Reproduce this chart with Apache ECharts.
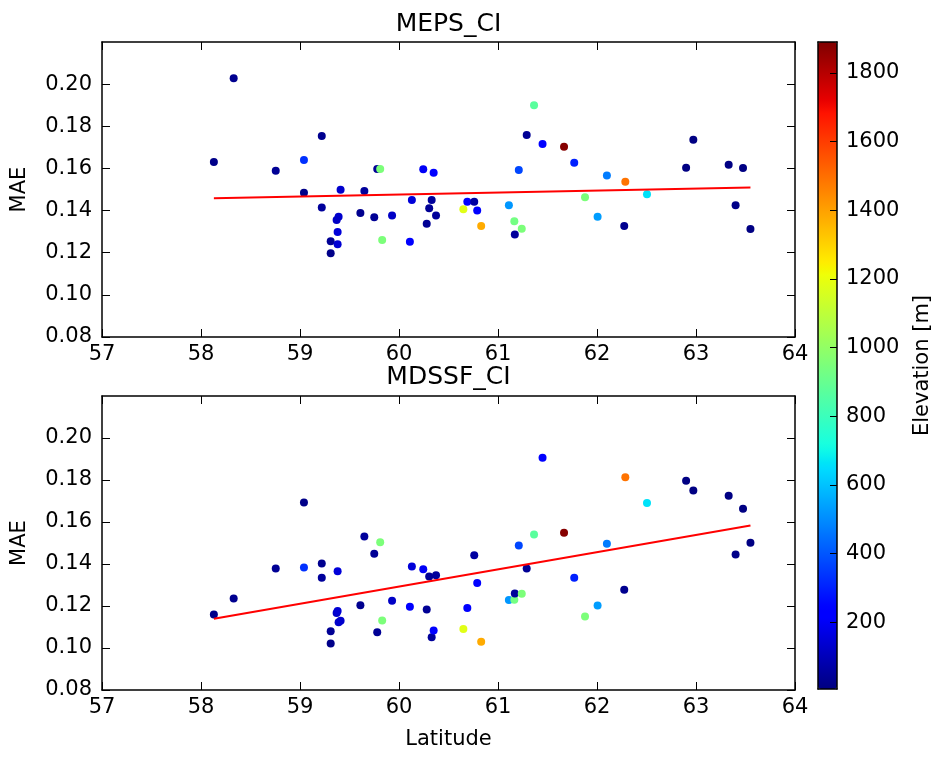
<!DOCTYPE html>
<html>
<head>
<meta charset="utf-8">
<script src="https://cdn.jsdelivr.net/npm/echarts@6/dist/echarts.min.js"></script>
<style>
html,body{margin:0;padding:0;background:#fff;}
#chart{width:934px;height:758px;}
</style>
</head>
<body>
<div id="chart"></div>
<script>
// ---- Data ----
const latitude = [58.13, 58.33, 58.755, 59.04, 59.04, 59.22, 59.22, 59.41, 59.39, 59.37, 59.38, 59.31, 59.38, 59.31,
  59.61, 59.65, 59.75, 59.78, 59.81, 59.83, 59.93, 60.11, 60.13, 60.245, 60.28, 60.305, 60.33, 60.35, 60.374,
  60.65, 60.69, 60.76, 60.79, 60.83, 61.11, 61.165, 61.17, 61.21, 61.24, 61.29, 61.364, 61.45, 61.667, 61.77,
  61.879, 62.006, 62.1, 62.275, 62.286, 62.505, 62.90, 62.973, 63.33, 63.40, 63.475, 63.55];
const elevation = [20, 30, 40, 330, 20, 30, 50, 130, 130, 120, 150, 40, 140, 20,
  30, 50, 40, 40, 950, 950, 120, 220, 150, 200, 40, 40, 50, 220, 50,
  1180, 220, 60, 220, 1380, 520, 930, 50, 370, 950, 40, 870, 230, 1880, 300,
  950, 530, 470, 30, 1490, 660, 10, 10, 10, 20, 10, 10];
const maeMEPS = [0.163, 0.2028, 0.1589, 0.164, 0.1485, 0.1754, 0.1414, 0.1499, 0.1371, 0.1355, 0.1298, 0.1254, 0.124, 0.1197,
  0.1388, 0.1493, 0.1368, 0.1597, 0.1597, 0.126, 0.1377, 0.1252, 0.145, 0.1596, 0.1338, 0.1411, 0.145, 0.158, 0.1377,
  0.1406, 0.1442, 0.1442, 0.14, 0.1327, 0.1425, 0.1349, 0.1286, 0.1593, 0.1314, 0.1759, 0.19, 0.1716, 0.1703, 0.1627,
  0.1463, 0.1371, 0.1566, 0.1327, 0.1537, 0.1477, 0.1603, 0.1736, 0.1618, 0.1425, 0.1602, 0.1312];
const maeMDSSF = [0.116, 0.1236, 0.1379, 0.1383, 0.1693, 0.1402, 0.1334, 0.113, 0.1123, 0.1167, 0.1366, 0.108, 0.1176, 0.1021,
  0.1204, 0.1531, 0.1449, 0.1075, 0.1504, 0.1131, 0.1225, 0.1196, 0.1388, 0.1375, 0.1183, 0.134, 0.1051, 0.1083, 0.1347,
  0.1091, 0.1191, 0.1442, 0.1309, 0.103, 0.1228, 0.123, 0.126, 0.1488, 0.1258, 0.1379, 0.154, 0.1906, 0.1549, 0.1335,
  0.115, 0.1202, 0.1496, 0.1277, 0.1813, 0.169, 0.1796, 0.175, 0.1725, 0.1445, 0.1663, 0.1501];
// regression line end points [lat, MAE]
const fitMEPS = [[58.13, 0.1458], [63.55, 0.1510]];
const fitMDSSF = [[58.13, 0.1139], [63.55, 0.1583]];
const xTicks = [57, 58, 59, 60, 61, 62, 63, 64];
const yTicks = [0.08, 0.10, 0.12, 0.14, 0.16, 0.18, 0.20];
const cbTicks = [200, 400, 600, 800, 1000, 1200, 1400, 1600, 1800];
const titles = ['MEPS_CI', 'MDSSF_CI'];

// ---- jet colormap ----
function interp(pts, t) {
  for (let i = 1; i < pts.length; i++) {
    if (t <= pts[i][0]) {
      const a = pts[i - 1], b = pts[i];
      return a[1] + (b[1] - a[1]) * (t - a[0]) / (b[0] - a[0]);
    }
  }
  return pts[pts.length - 1][1];
}
const R = [[0,0],[0.35,0],[0.66,1],[0.89,1],[1,0.5]];
const G = [[0,0],[0.125,0],[0.375,1],[0.64,1],[0.91,0],[1,0]];
const B = [[0,0.5],[0.11,1],[0.34,1],[0.65,0],[1,0]];
const jet = [];
for (let i = 0; i <= 100; i++) {
  const t = i / 100;
  const c = v => Math.round(Math.max(0, Math.min(1, v)) * 255);
  jet.push('rgb(' + c(interp(R, t)) + ',' + c(interp(G, t)) + ',' + c(interp(B, t)) + ')');
}

const FONT = 'DejaVu Sans';
const dataTop = latitude.map((x, i) => [x, maeMEPS[i], elevation[i]]);
const dataBot = latitude.map((x, i) => [x, maeMDSSF[i], elevation[i]]);

const lineStyleAxis = { color: '#000', width: 1.5 };
function xAx(grid, pos, labels, name) {
  return {
    type: 'value', gridIndex: grid, position: pos, min: 57, max: 64,
    axisLine: { show: true, onZero: false, lineStyle: lineStyleAxis },
    axisTick: { show: true, inside: true, length: 8, customValues: xTicks, lineStyle: { color: '#000', width: 1 } },
    axisLabel: { show: labels, customValues: xTicks, fontFamily: FONT, fontSize: 21, color: '#000', margin: 7,
      formatter: v => String(v) },
    splitLine: { show: false },
    name: name || '', nameLocation: 'middle', nameGap: 39,
    nameTextStyle: { fontFamily: FONT, fontSize: 21, color: '#000' }
  };
}
function yAx(grid, pos, labels, name) {
  return {
    type: 'value', gridIndex: grid, position: pos, min: 0.08, max: 0.22,
    axisLine: { show: true, onZero: false, lineStyle: lineStyleAxis },
    axisTick: { show: true, inside: true, length: 8, customValues: yTicks, lineStyle: { color: '#000', width: 1 } },
    axisLabel: { show: labels, customValues: yTicks, fontFamily: FONT, fontSize: 21, color: '#000', margin: 10,
      formatter: v => Number(v).toFixed(2) },
    splitLine: { show: false },
    name: name || '', nameLocation: 'middle', nameGap: 72,
    nameTextStyle: { fontFamily: FONT, fontSize: 21, color: '#000' }
  };
}

const option = {
  backgroundColor: '#fff',
  animation: false,
  title: titles.map((t, i) => ({
    text: t, left: 448.5, top: i === 0 ? 12 : 365, textAlign: 'center', padding: 0,
    textStyle: { fontFamily: FONT, fontSize: 25, fontWeight: 'normal', color: '#000' }
  })),
  grid: [
    { left: 102, top: 42, width: 693, height: 295 },
    { left: 102, top: 396, width: 693, height: 294 },
    { left: 818, top: 42, width: 19, height: 647 }
  ],
  xAxis: [
    xAx(0, 'bottom', true), xAx(0, 'top', false),
    xAx(1, 'bottom', true, 'Latitude'), xAx(1, 'top', false),
    { type: 'value', gridIndex: 2, position: 'bottom', min: 0, max: 1, z: 10,
      axisLine: { show: true, lineStyle: { color: '#000', width: 1.5 } }, axisTick: { show: false },
      axisLabel: { show: false }, splitLine: { show: false } },
    { type: 'value', gridIndex: 2, position: 'top', min: 0, max: 1, z: 10,
      axisLine: { show: true, lineStyle: { color: '#000', width: 1.5 } }, axisTick: { show: false },
      axisLabel: { show: false }, splitLine: { show: false } }
  ],
  yAxis: [
    yAx(0, 'left', true, 'MAE'), yAx(0, 'right', false),
    yAx(1, 'left', true, 'MAE'), yAx(1, 'right', false),
    { type: 'value', gridIndex: 2, position: 'left', min: 5, max: 1890, z: 10,
      axisLine: { show: true, onZero: false, lineStyle: { color: '#000', width: 1.5 } }, axisTick: { show: false },
      axisLabel: { show: false }, splitLine: { show: false } },
    { type: 'value', gridIndex: 2, position: 'right', min: 5, max: 1890, z: 10,
      axisLine: { show: true, onZero: false, lineStyle: { color: '#000', width: 1.5 } },
      axisTick: { show: true, inside: true, length: 7, customValues: cbTicks, lineStyle: { color: '#000', width: 1 } },
      axisLabel: { show: true, customValues: cbTicks, fontFamily: FONT, fontSize: 21, color: '#000', margin: 9,
        formatter: v => String(v) },
      splitLine: { show: false },
      name: 'Elevation [m]', nameLocation: 'middle', nameGap: 75,
      nameTextStyle: { fontFamily: FONT, fontSize: 21, color: '#000' } }
  ],
  visualMap: {
    type: 'continuous', min: 5, max: 1890, dimension: 2, seriesIndex: [0, 2],
    orient: 'vertical', left: 818, top: 42, itemWidth: 19, itemHeight: 647,
    padding: 0, calculable: false, realtime: false, hoverLink: false,
    inRange: { color: jet }
  },
  series: [
    { type: 'scatter', xAxisIndex: 0, yAxisIndex: 0, data: dataTop, symbolSize: 8, z: 2,
      itemStyle: { opacity: 1 } },
    { type: 'line', xAxisIndex: 0, yAxisIndex: 0, data: fitMEPS, symbol: 'none', z: 3,
      lineStyle: { color: '#ff0000', width: 2 } },
    { type: 'scatter', xAxisIndex: 2, yAxisIndex: 2, data: dataBot, symbolSize: 8, z: 2,
      itemStyle: { opacity: 1 } },
    { type: 'line', xAxisIndex: 2, yAxisIndex: 2, data: fitMDSSF, symbol: 'none', z: 3,
      lineStyle: { color: '#ff0000', width: 2 } }
  ]
};
const chart = echarts.init(document.getElementById('chart'), null, { renderer: 'canvas' });
chart.setOption(option);
</script>
</body>
</html>
